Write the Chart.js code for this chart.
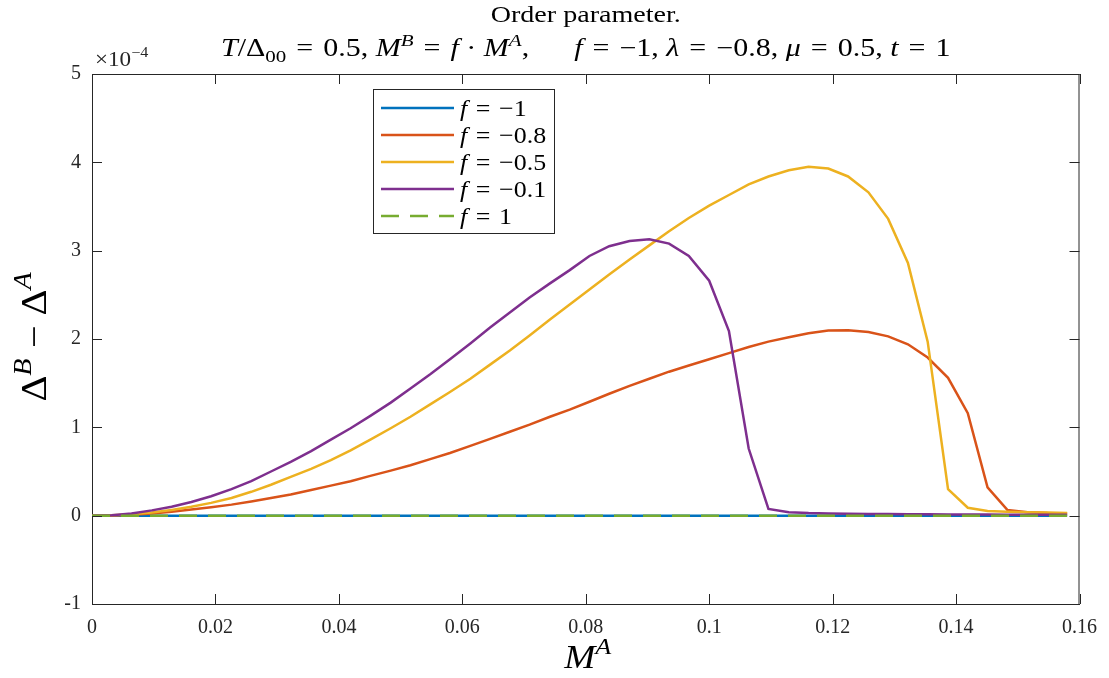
<!DOCTYPE html>
<html><head><meta charset="utf-8">
<script src="https://cdn.jsdelivr.net/npm/chart.js@4.4.0/dist/chart.umd.min.js"></script>
<style>html,body{margin:0;padding:0;background:#fff}#wrap{width:1109px;height:678px}</style>
</head><body><div id="wrap"><canvas id="c" width="1109" height="678"></canvas></div>
<script>
// M^A grid (x values)
const xValues = [0.0000,0.0032,0.0064,0.0097,0.0129,0.0161,0.0193,0.0226,0.0258,0.0290,
  0.0322,0.0355,0.0387,0.0419,0.0451,0.0484,0.0516,0.0548,0.0580,0.0613,
  0.0645,0.0677,0.0709,0.0742,0.0774,0.0806,0.0838,0.0871,0.0903,0.0935,
  0.0967,0.1000,0.1032,0.1064,0.1096,0.1129,0.1161,0.1193,0.1225,0.1258,
  0.1290,0.1322,0.1354,0.1387,0.1419,0.1451,0.1483,0.1516,0.1548,0.1580];
// Δ^B − Δ^A in units of 1e-4
const seriesFm1 = [0,0,0,0,0,0,0,0,0,0,0,0,0,0,0,0,0,0,0,0,0,0,0,0,0,0,0,0,0,0,0,0,0,0,0,0,0,0,0,0,0,0,0,0,0,0,0,0,0,0];
const seriesFm08 = [0,0.002,0.01,0.025,0.045,0.07,0.095,0.125,0.16,0.20,
  0.24,0.29,0.34,0.39,0.45,0.51,0.57,0.64,0.71,0.79,
  0.87,0.95,1.03,1.12,1.20,1.29,1.38,1.47,1.55,1.63,
  1.70,1.77,1.84,1.91,1.97,2.02,2.065,2.095,2.10,2.08,
  2.03,1.94,1.79,1.56,1.16,0.32,0.065,0.04,0.03,0.025];
const seriesFm05 = [0,0.004,0.015,0.035,0.065,0.10,0.145,0.20,0.27,0.35,
  0.44,0.53,0.63,0.74,0.86,0.99,1.12,1.26,1.40,1.55,
  1.71,1.87,2.04,2.22,2.39,2.56,2.73,2.90,3.06,3.22,
  3.37,3.51,3.63,3.75,3.84,3.91,3.95,3.93,3.84,3.66,
  3.36,2.86,1.97,0.30,0.09,0.053,0.045,0.04,0.035,0.03];
const seriesFm01 = [0,0.005,0.025,0.06,0.10,0.155,0.22,0.30,0.39,0.50,
  0.61,0.73,0.86,0.99,1.13,1.28,1.44,1.60,1.77,1.95,
  2.13,2.30,2.47,2.63,2.78,2.94,3.05,3.11,3.13,3.08,
  2.94,2.66,2.09,0.76,0.076,0.04,0.03,0.025,0.022,0.02,
  0.018,0.017,0.015,0.014,0.013,0.012,0.011,0.01,0.01,0.009];
const seriesF1 = [0,0,0,0,0,0,0,0,0,0,0,0,0,0,0,0,0,0,0,0,0,0,0,0,0,0,0,0,0,0,0,0,0,0,0,0,0,0,0,0,0,0,0,0,0,0,0,0,0,0];
const fValues = ['\u22121','\u22120.8','\u22120.5','\u22120.1','1'];
const xTickValues = [0,0.02,0.04,0.06,0.08,0.1,0.12,0.14,0.16];
const xTickLabels = ['0','0.02','0.04','0.06','0.08','0.1','0.12','0.14','0.16'];
const yTickValues = [-1,0,1,2,3,4,5];
const yTickLabels = ['-1','0','1','2','3','4','5'];

const FAM = '"Liberation Serif", "DejaVu Serif", serif';
const INK = '#262626';
const colors = ['#0072BD','#D95319','#EDB120','#7E2F8E','#77AC30'];
const allSeries = [seriesFm1, seriesFm08, seriesFm05, seriesFm01, seriesF1];
const EQ = '\u2004=\u2004';

function pts(arr){ return arr.map((v,i)=>({x:xValues[i], y:v})); }

function segFont(style, size){
  const s = (style.includes('^')||style.includes('_')) ? size*0.7 : size;
  return {font: (style.includes('i')?'italic ':'') + s + 'px ' + FAM, dy: style.includes('^') ? -size*0.42 : (style.includes('_') ? size*0.22 : 0)};
}
function richWidth(ctx, segs, size){
  let w=0; for(const [t,st] of segs){ ctx.font = segFont(st,size).font; w += ctx.measureText(t).width; } return w;
}
function drawRich(ctx, segs, x, y, size, align, hs){
  hs = hs || 1;
  const w = richWidth(ctx, segs, size);
  ctx.save(); ctx.translate(x, y); ctx.scale(hs, 1);
  let cx = align==='center' ? -w/2 : (align==='right' ? -w : 0);
  ctx.textAlign='left'; ctx.textBaseline='alphabetic';
  for(const [t,st] of segs){ const f=segFont(st,size); ctx.font=f.font; ctx.fillText(t, cx, f.dy); cx += ctx.measureText(t).width; }
  ctx.restore();
}

const decor = {
  id:'decor',
  afterDraw(chart){
    const ctx = chart.ctx, a = chart.chartArea, xs = chart.scales.x, ys = chart.scales.y;
    ctx.save();
    ctx.strokeStyle = INK; ctx.lineWidth = 1;
    ctx.beginPath();
    ctx.moveTo(a.left, a.top+0.5); ctx.lineTo(a.right, a.top+0.5);
    ctx.moveTo(a.right-0.5, a.top); ctx.lineTo(a.right-0.5, a.bottom);
    ctx.stroke();
    const TL = 10;
    ctx.beginPath();
    for(const v of xTickValues){
      const px = Math.round(xs.getPixelForValue(v))+0.5;
      ctx.moveTo(px, a.bottom); ctx.lineTo(px, a.bottom-TL);
      ctx.moveTo(px, a.top); ctx.lineTo(px, a.top+TL);
    }
    for(const v of yTickValues){
      const py = Math.round(ys.getPixelForValue(v))+0.5;
      ctx.moveTo(a.left, py); ctx.lineTo(a.left+TL, py);
      ctx.moveTo(a.right, py); ctx.lineTo(a.right-TL, py);
    }
    ctx.stroke();

    ctx.fillStyle = '#000';
    const cx = (a.left+a.right)/2;
    drawRich(ctx, [['Order parameter.','']], cx, 22, 24, 'center', 1.17);
    drawRich(ctx, [['T','i'],['/\u0394',''],['00','_'],[EQ+'0.5, ',''],['M','i'],['B','i^'],[EQ,''],['f','i'],[' \u00B7 ',''],['M','i'],['A','i^'],[',\u2003\u2002',''],['f','i'],[EQ+'\u22121, ',''],['\u03BB','i'],[EQ+'\u22120.8, ',''],['\u03BC','i'],[EQ+'0.5, ',''],['t','i'],[EQ+'1','']], cx, 56, 25, 'center', 1.2);
    ctx.fillStyle = INK;
    drawRich(ctx, [['\u00D710',''],['\u22124','^']], a.left+3, 66, 21, 'left', 1.1);
    ctx.fillStyle = '#000';
    drawRich(ctx, [['M','i'],['A','i^']], cx+2, 668, 34, 'center', 1.1);
    ctx.save(); ctx.translate(46, (a.top+a.bottom)/2 - 2); ctx.rotate(-Math.PI/2);
    drawRich(ctx, [['\u0394',''],['B','i^'],[' \u2212 ',''],['\u0394',''],['A','i^']], 0, 0, 36, 'center', 1.12);
    ctx.restore();

    // legend
    const L = {x:373.5, y:89.5, w:181, h:144};
    ctx.fillStyle='#fff'; ctx.fillRect(L.x, L.y, L.w, L.h);
    ctx.strokeStyle = INK; ctx.lineWidth=1; ctx.strokeRect(L.x, L.y, L.w, L.h);
    chart.data.datasets.forEach((ds, k)=>{
      const y = 108 + k*27;
      ctx.strokeStyle = ds.borderColor; ctx.lineWidth = 2.5;
      ctx.setLineDash(ds.borderDash || []);
      ctx.beginPath(); ctx.moveTo(381, y); ctx.lineTo(454, y); ctx.stroke();
      ctx.setLineDash([]);
      ctx.fillStyle = '#000';
      drawRich(ctx, [['f','i'],[EQ + fValues[k], '']], 460, y+8, 24, 'left', 1.08);
    });
    ctx.restore();
  }
};

const datasets = allSeries.map((s,k)=>({
  label: 'f = ' + fValues[k],
  data: pts(s),
  borderColor: colors[k],
  backgroundColor: colors[k],
  borderWidth: 2.5,
  borderDash: k===4 ? [18,11] : undefined,
  pointRadius: 0,
  tension: 0,
  fill: false,
  order: 5-k
}));

new Chart(document.getElementById('c'), {
  type: 'line',
  data: { datasets },
  options: {
    responsive: false, animation: false, devicePixelRatio: 1,
    layout: { padding: { top: 74, right: 26, left: 0, bottom: 0 } },
    plugins: { legend: { display: false }, tooltip: { enabled: false }, title: { display: false } },
    scales: {
      x: {
        type: 'linear', min: 0, max: 0.16,
        afterBuildTicks: s => { s.ticks = xTickValues.map(v => ({ value: v })); },
        afterFit: s => { s.height = 74; },
        ticks: { callback: (v, i) => xTickLabels[i], font: { family: FAM, size: 20 }, color: INK, padding: 12, maxRotation: 0, autoSkip: false },
        grid: { drawOnChartArea: false, drawTicks: false },
        border: { color: INK, width: 1 }
      },
      y: {
        type: 'linear', min: -1, max: 5,
        afterBuildTicks: s => { s.ticks = yTickValues.map(v => ({ value: v })); },
        afterFit: s => { s.width = 92; },
        ticks: { callback: (v, i) => yTickLabels[i], font: { family: FAM, size: 20 }, color: INK, padding: 11 },
        grid: { drawOnChartArea: false, drawTicks: false },
        border: { color: INK, width: 1 }
      }
    }
  },
  plugins: [decor]
});
</script></body></html>
